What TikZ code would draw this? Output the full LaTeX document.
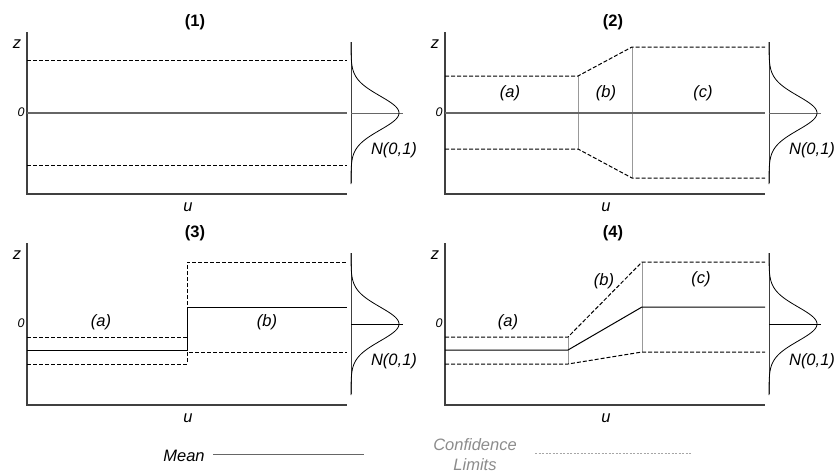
\documentclass[tikz,border=0pt]{standalone}
\usepackage{fontspec}
\setmainfont{Liberation Sans}
\begin{document}
\begin{tikzpicture}[x=1pt,y=-1pt,
  axisln/.style={draw=black!75, line width=1.1pt},
  meangray/.style={draw=black!60, line width=1.1pt},
  meanblack/.style={draw=black, line width=1pt},
  climit/.style={draw=black, line width=1pt, dash pattern=on 4pt off 2pt},
  sepline/.style={draw=black!40, line width=1pt},
  bell/.style={draw=black, line width=0.8pt},
  txt/.style={inner sep=0pt, font=\fontsize{16}{19}\selectfont},
  itxt/.style={inner sep=0pt, font=\fontsize{16.5}{19}\selectfont\itshape},
  ttl/.style={inner sep=0pt, font=\fontsize{16.5}{19}\selectfont\bfseries},
  zero/.style={inner sep=0pt, font=\fontsize{12.5}{14}\selectfont\itshape}]
\useasboundingbox (0,0) rectangle (835,474);

% axes, z/u labels and the N(0,1) density for each of the four panels
\foreach \px/\py/\n/\cl in {0/0/1/black!60, 418/0/2/black!60, 0/211/3/black, 418/211/4/black}{
  \begin{scope}[shift={(\px,\py)}]
    \node[ttl] (title\n) at (195,22) {(\n)};
    \draw[axisln] (27,32) -- (27,194) -- (347,194);
    \node[itxt] (zlab\n) at (17,44) {z};
    \node[itxt] (ulab\n) at (188,207) {u};
    \node[zero] (zero\n) at (21,112) {0};
    \draw[draw=black!75, line width=1pt] (351,42) -- (351,183);
    \draw[draw=\cl, line width=1pt] (351,113) -- (403,113);
    \draw[bell] plot[domain=-71:71, samples=90, smooth]
      ({351+48*exp(-(\x*\x)/578)}, {113+\x});
    \node[itxt] (norm\n) at (394,150) {N(0,1)};
  \end{scope}
}

% (1) constant mean and confidence limits
\draw[meangray] (27,113) -- (347,113);
\draw[climit] (27,60) -- (347,60);
\draw[climit] (27,165) -- (347,165);

% (2) widening confidence band
\draw[sepline] (578,76) -- (578,149);
\draw[sepline] (632,47) -- (632,178);
\draw[meangray] (445,113) -- (765,113);
\draw[climit] (445,76) -- (578,76) -- (632,47) -- (765,47);
\draw[climit] (445,149) -- (578,149) -- (632,178) -- (765,178);
\node[itxt] (a2) at (510,93) {(a)};
\node[itxt] (b2) at (606,93) {(b)};
\node[itxt] (c2) at (703,93) {(c)};

% (3) step change
\draw[climit] (27,337) -- (187,337) -- (187,262) -- (347,262);
\draw[meanblack] (27,350) -- (187,350) -- (187,307) -- (347,307);
\draw[climit] (27,364) -- (187,364) -- (187,352) -- (347,352);
\node[itxt] (a3) at (101,322) {(a)};
\node[itxt] (b3) at (267,322) {(b)};

% (4) gradual change
\draw[sepline] (568,337) -- (568,364);
\draw[sepline] (642,262) -- (642,352);
\draw[climit] (445,337) -- (568,337) -- (642,262) -- (765,262);
\draw[meanblack] (445,350) -- (568,350) -- (642,307) -- (765,307);
\draw[climit] (445,364) -- (568,364) -- (642,352) -- (765,352);
\node[itxt] (a4) at (508,322) {(a)};
\node[itxt] (b4) at (604,281) {(b)};
\node[itxt] (c4) at (701,279) {(c)};

% legend
\node[itxt] (meanlab) at (184,456) {Mean};
\draw[meangray, line width=1pt] (213,454) -- (364,454);
\node[itxt, text=black!45, align=center, font=\fontsize{16.5}{20}\selectfont\itshape] (cllab) at (475,455) {Confidence\\Limits};
\draw[draw=black!35, line width=0.6pt, dash pattern=on 2pt off 1.5pt] (535,453) -- (692,453);
\end{tikzpicture}
\end{document}
